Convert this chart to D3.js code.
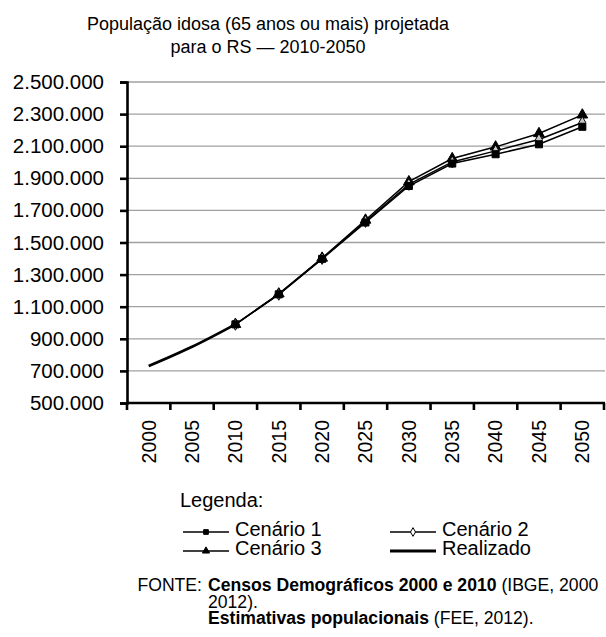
<!DOCTYPE html>
<html><head><meta charset="utf-8">
<script src="https://cdn.jsdelivr.net/npm/d3@7"></script>
<style>
html,body{margin:0;padding:0;background:#fff;}
svg{display:block;font-family:"Liberation Sans",Arial,Helvetica,sans-serif;}
</style></head>
<body><svg id="c" width="606" height="637"></svg>
<script>
const years = ["2000","2005","2010","2015","2020","2025","2030","2035","2040","2045","2050"];
const realizadoYears = ["2000","2005","2010"];
const realizado = [730000, 850000, 990000];
const scenarioYears = ["2010","2015","2020","2025","2030","2035","2040","2045","2050"];
const cenario1 = [990000, 1177000, 1398000, 1625000, 1852000, 1992000, 2050000, 2112000, 2221000];
const cenario2 = [990000, 1177000, 1400000, 1631000, 1862000, 2002000, 2071000, 2142000, 2248000];
const cenario3 = [990000, 1180000, 1403000, 1640000, 1879000, 2023000, 2096000, 2179000, 2295000];
const yTicks = [500000,700000,900000,1100000,1300000,1500000,1700000,1900000,2100000,2300000,2500000];
const titleLines = ["População idosa (65 anos ou mais) projetada","para o RS — 2010-2050"];

const svg = d3.select("#c");
const x = d3.scaleBand().domain(years).range([127, 604]).padding(0);
const y = d3.scaleLinear().domain([500000, 2500000]).range([403, 82]);
const fmt = v => d3.format(",")(v).replace(/,/g, ".");

// title
svg.append("g").selectAll("text").data(titleLines).join("text")
  .attr("x", 268).attr("y", (d,i) => 30 + i*23)
  .attr("text-anchor","middle").attr("font-size",18).attr("fill","#000").text(d=>d);

// gridlines
svg.append("g").selectAll("line").data(yTicks.slice(1)).join("line")
  .attr("x1",127).attr("x2",605).attr("y1",d=>y(d)).attr("y2",d=>y(d))
  .attr("stroke","#a0a0a0").attr("stroke-width",1.3);

// y axis
const yAxis = svg.append("g").attr("transform","translate(127,0)")
  .call(d3.axisLeft(y).tickValues(yTicks).tickFormat(fmt).tickSize(7).tickPadding(16));
yAxis.select(".domain").attr("stroke","#000").attr("stroke-width",2.6);
yAxis.selectAll(".tick line").attr("stroke","#000").attr("stroke-width",2.6);
yAxis.selectAll(".tick text").attr("font-size",20.5).attr("fill","#000")
  .attr("font-family","'Liberation Sans',Arial,sans-serif");

// x axis
const gx = svg.append("g");
gx.append("line").attr("x1",126).attr("x2",605).attr("y1",y(500000)).attr("y2",y(500000))
  .attr("stroke","#000").attr("stroke-width",2.6);
const edges = years.map(d => x(d)).concat([x.range()[1]]);
gx.selectAll("line.tk").data(edges).join("line").attr("class","tk")
  .attr("x1",d=>d).attr("x2",d=>d).attr("y1",y(500000)).attr("y2",y(500000)+7)
  .attr("stroke","#000").attr("stroke-width",2.6);
gx.selectAll("text").data(years).join("text")
  .attr("transform", d => `translate(${x(d)+x.bandwidth()/2},420) rotate(-90)`)
  .attr("text-anchor","end").attr("dy","0.35em").attr("font-size",19.5).attr("fill","#000").text(d=>d);

const cx = d => x(d) + x.bandwidth()/2;
const line = d3.line().x(d=>cx(d[0])).y(d=>y(d[1]));
const smooth = d3.line().curve(d3.curveMonotoneX).x(d=>cx(d[0])).y(d=>y(d[1]));

const series = [
  {name:"Cenário 1", vals:cenario1, sym:d3.symbolSquare, size:50, fill:"#000"},
  {name:"Cenário 2", vals:cenario2, sym:d3.symbolDiamond, size:40, fill:"#c8c8c8"},
  {name:"Cenário 3", vals:cenario3, sym:d3.symbolTriangle, size:50, fill:"#000"}
];

// realizado
svg.append("path").datum(realizadoYears.map((d,i)=>[d,realizado[i]]))
  .attr("d", smooth).attr("fill","none").attr("stroke","#000").attr("stroke-width",2.8);

series.slice().reverse().forEach(s => {
  const pts = scenarioYears.map((d,i)=>[d, s.vals[i]]);
  svg.append("path").datum(pts).attr("d", line).attr("fill","none")
    .attr("stroke","#000").attr("stroke-width",1.5);
});
series.slice().reverse().forEach(s => {
  const pts = scenarioYears.map((d,i)=>[d, s.vals[i]]);
  svg.append("g").selectAll("path").data(pts).join("path")
    .attr("transform", d=>`translate(${cx(d[0])},${y(d[1])})`)
    .attr("d", d3.symbol().type(s.sym).size(s.size))
    .attr("fill", s.fill).attr("stroke","#000").attr("stroke-width",1);
});

// legend
const lg = svg.append("g").attr("font-size",20).attr("fill","#000");
lg.append("text").attr("x",180).attr("y",507).text("Legenda:");
const legItems = [
  {name:"Cenário 1", x:183, ly:532, by:536, sym:d3.symbolSquare, size:22, fill:"#000", w:1.5},
  {name:"Cenário 2", x:390, ly:532, by:536, sym:d3.symbolDiamond, size:22, fill:"#fff", w:1.5},
  {name:"Cenário 3", x:183, ly:551, by:555, sym:d3.symbolTriangle, size:22, fill:"#000", w:1.5},
  {name:"Realizado", x:390, ly:551, by:555, sym:null, w:3}
];
legItems.forEach(it => {
  lg.append("line").attr("x1",it.x).attr("x2",it.x+46).attr("y1",it.ly).attr("y2",it.ly)
    .attr("stroke","#000").attr("stroke-width",it.w);
  if (it.sym) lg.append("path").attr("transform",`translate(${it.x+23},${it.ly})`)
    .attr("d", d3.symbol().type(it.sym).size(it.size)).attr("fill",it.fill).attr("stroke","#000").attr("stroke-width",1);
  lg.append("text").attr("x", it.x+52).attr("y", it.by).text(it.name);
});

// source
const src = svg.append("g").attr("font-size",17.6).attr("fill","#000");
src.append("text").attr("x",202).attr("y",591).attr("text-anchor","end").text("FONTE:");
const t1 = src.append("text").attr("x",208).attr("y",591);
t1.append("tspan").attr("font-weight","bold").text("Censos Demográficos 2000 e 2010");
t1.append("tspan").text(" (IBGE, 2000");
src.append("text").attr("x",208).attr("y",607.5).text("2012).");
const t3 = src.append("text").attr("x",208).attr("y",624);
t3.append("tspan").attr("font-weight","bold").text("Estimativas populacionais");
t3.append("tspan").text(" (FEE, 2012).");
</script></body></html>
